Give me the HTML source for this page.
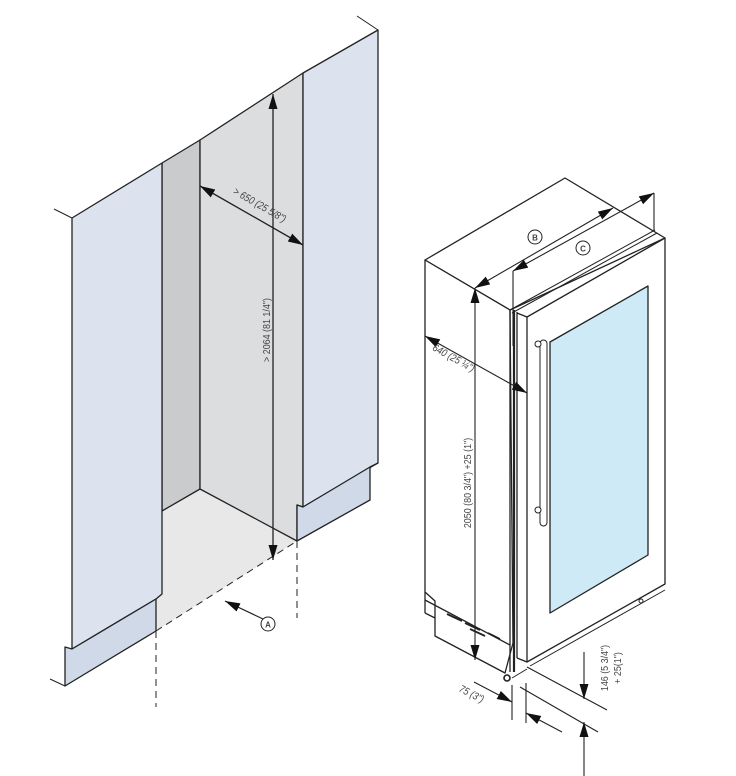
<!DOCTYPE html>
<html><head><meta charset="utf-8"><style>
html,body{margin:0;padding:0;background:#fff;}
svg{display:block;}
text{font-family:"Liberation Sans",sans-serif;fill:#444;}
</style></head><body>
<svg width="736" height="776" viewBox="0 0 736 776" xmlns="http://www.w3.org/2000/svg">
<defs>
<marker id="ahb" viewBox="0 0 10 10" refX="10" refY="5" markerWidth="15" markerHeight="15" orient="auto-start-reverse" markerUnits="userSpaceOnUse"><path d="M0,2 L10,5 L0,8 z" fill="#111"/></marker>
</defs>
<g stroke="#222" stroke-width="1.3" stroke-linejoin="round">
<!-- LEFT DRAWING -->
<polygon points="162,511 200,489 297,541 156,631 156,599 162,594" fill="#e8e8e8" stroke="none"/>
<polygon points="162,163 200,140 200,489 162,511" fill="#c9cbcd"/>
<polygon points="200,140 303,73 303,507 297,505 297,541 200,489" fill="#dcdddf"/>
<polygon points="72,218 162,163 162,594 156,599 72,649" fill="#dce3ef"/>
<polygon points="65,647 72,649 156,599 156,631 65,686" fill="#cfd9e8"/>
<polygon points="303,73 378,30 378,463 303,507" fill="#dce3ef"/>
<polygon points="297,505 303,507 370,467 370,500 297,541" fill="#cfd9e8"/>
<line x1="378" y1="463" x2="370" y2="467"/>
<line x1="54" y1="209" x2="72" y2="218" stroke-width="1"/>
<line x1="357" y1="16" x2="378" y2="30" stroke-width="1"/>
<line x1="50" y1="679" x2="65" y2="686" stroke-width="1"/>
<g stroke-dasharray="7,5" stroke-width="1">
<line x1="156" y1="631" x2="297" y2="541"/>
<line x1="156" y1="631" x2="156" y2="707"/>
<line x1="297" y1="541" x2="297" y2="618"/>
</g>
<line x1="273" y1="94" x2="273" y2="560" stroke-width="1.3" marker-start="url(#ahb)" marker-end="url(#ahb)"/>
<line x1="200" y1="186" x2="303" y2="245" stroke-width="1.3" marker-start="url(#ahb)" marker-end="url(#ahb)"/>
<line x1="263" y1="619" x2="225" y2="601" stroke-width="1.2" marker-end="url(#ahb)"/>
<circle cx="268" cy="624" r="7" fill="#fff" stroke-width="1"/>

<!-- RIGHT DRAWING -->
<polygon points="425,260 565,178 665,238 510,310" fill="#fff"/>
<polygon points="425,260 510,310 513,643 505,673 435,636 435,601 425,592" fill="#fff"/>
<line x1="425" y1="592" x2="425" y2="613"/>
<line x1="425" y1="613" x2="435" y2="618"/>
<line x1="425" y1="600" x2="510" y2="645"/>
<g stroke-width="1.8">
<line x1="447" y1="614" x2="462" y2="621"/><line x1="465" y1="623" x2="480" y2="630"/>
<line x1="470" y1="629" x2="485" y2="636"/><line x1="488" y1="633" x2="500" y2="639"/>
</g>
<line x1="510" y1="310" x2="510" y2="672"/>
<line x1="514" y1="310" x2="514" y2="672" stroke-width="2.2"/>
<line x1="517" y1="312" x2="517" y2="658"/>
<polygon points="527,317 665,238 665,584 527,662" fill="#fff"/>
<line x1="510" y1="310" x2="655" y2="230" stroke-width="1"/>
<line x1="512" y1="313" x2="657" y2="233" stroke-width="1"/>
<line x1="517" y1="313" x2="527" y2="317"/>
<line x1="527" y1="662" x2="517" y2="658"/>
<line x1="530" y1="666" x2="665" y2="590" stroke-width="1"/>
<line x1="527" y1="669" x2="512" y2="678" stroke-width="1"/>
<circle cx="507" cy="678" r="3" fill="#fff" stroke-width="1.6"/>
<circle cx="641" cy="601" r="2" fill="#fff" stroke-width="1"/>
<polygon points="550,342 648,286 648,555 550,613" fill="#cfeaf7"/>
<rect x="540" y="340" width="7" height="186" rx="3.5" fill="#fff" stroke-width="1"/>
<circle cx="538" cy="344" r="3" fill="#fff" stroke-width="1"/>
<circle cx="538" cy="510" r="3" fill="#fff" stroke-width="1"/>
<g stroke-width="1.1">
<line x1="475" y1="288" x2="475" y2="660" marker-start="url(#ahb)" marker-end="url(#ahb)"/>
<line x1="475" y1="288" x2="613" y2="208" marker-start="url(#ahb)" marker-end="url(#ahb)"/>
<line x1="513" y1="271" x2="654" y2="193" marker-start="url(#ahb)" marker-end="url(#ahb)"/>
<line x1="513" y1="271" x2="513" y2="346"/>
<line x1="654" y1="193" x2="654" y2="231"/>
<line x1="425" y1="336" x2="527" y2="393" marker-start="url(#ahb)" marker-end="url(#ahb)"/>
<line x1="512" y1="685" x2="512" y2="720"/>
<line x1="526" y1="683" x2="526" y2="723"/>
<line x1="474" y1="682" x2="512" y2="702" marker-end="url(#ahb)"/>
<line x1="562" y1="732" x2="526" y2="713" marker-end="url(#ahb)"/>
<line x1="527" y1="667" x2="607" y2="710"/>
<line x1="520" y1="687" x2="598" y2="732"/>
<line x1="584" y1="652" x2="584" y2="699" marker-end="url(#ahb)"/>
<line x1="584" y1="776" x2="584" y2="722" marker-end="url(#ahb)"/>
</g>
<circle cx="535" cy="237" r="7" fill="#fff" stroke-width="1"/>
<circle cx="583" cy="248" r="7" fill="#fff" stroke-width="1"/>
</g>
<g font-size="10.5">
<text x="268" y="627.5" text-anchor="middle" font-size="8" font-weight="bold" fill="#222">A</text>
<text x="535" y="240.5" text-anchor="middle" font-size="8" font-weight="bold" fill="#222">B</text>
<text x="583" y="251.5" text-anchor="middle" font-size="8" font-weight="bold" fill="#222">C</text>
<text transform="translate(258,208) rotate(30) scale(0.85,1)" text-anchor="middle" font-style="italic">&gt; 650 (25 5/8")</text>
<text transform="translate(270,330) rotate(-90) scale(0.85,1)" text-anchor="middle">&gt; 2064 (81 1/4")</text>
<text transform="translate(471,483) rotate(-90) scale(0.85,1)" text-anchor="middle">2050 (80 3/4") +25 (1")</text>
<text transform="translate(452,361) rotate(29) scale(0.85,1)" text-anchor="middle" font-style="italic">640 (25 ¼")</text>
<text transform="translate(470,697) rotate(27) scale(0.85,1)" text-anchor="middle" font-style="italic">75 (3")</text>
<text transform="translate(608,668) rotate(-90) scale(0.85,1)" text-anchor="middle">146 (5 3/4")</text>
<text transform="translate(621,668) rotate(-90) scale(0.85,1)" text-anchor="middle">+ 25(1")</text>
</g>
</svg>
</body></html>
